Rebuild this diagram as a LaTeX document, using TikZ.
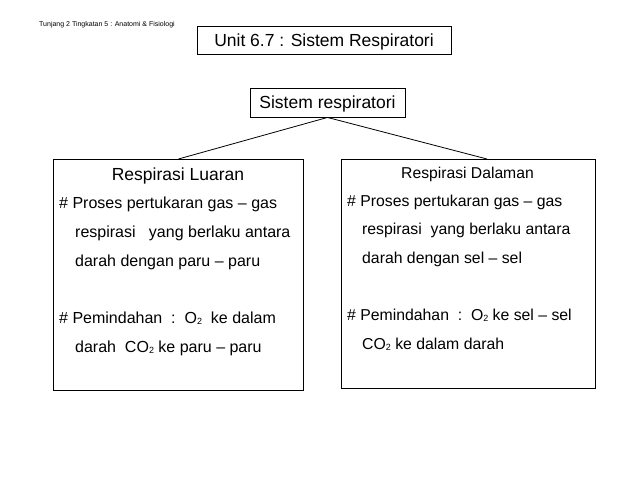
\documentclass[tikz,border=0pt]{standalone}
\usepackage{fontspec}
\setmainfont{Liberation Sans}
\newcommand\subtwo{\raisebox{-1pt}{\fontsize{9}{9}\selectfont 2}}
\begin{document}
\begin{tikzpicture}[x=1pt,y=-1pt,
  box/.style={draw,line width=0.9pt,inner sep=0pt},
  conn/.style={line width=0.8pt},
  ltxt/.style={anchor=base west,inner sep=0pt,font=\fontsize{16}{16}\selectfont},
  rtxt/.style={anchor=base west,inner sep=0pt,font=\fontsize{15.8}{16}\selectfont},
  ttl/.style={anchor=base,inner sep=0pt}]
\useasboundingbox (0,0) rectangle (638,479);
\fill[white] (0,0) rectangle (638,479);
\node[anchor=base west,inner sep=0pt,font=\fontsize{7}{7}\selectfont] (hdr) at (39,26.5) {Tunjang 2 Tingkatan 5 : Anatomi \& Fisiologi};
\node[box,minimum width=254pt,minimum height=28pt,text height=12.5pt,text depth=0pt,font=\fontsize{17.5}{17.5}\selectfont] (T) at (324,40) {Unit 6.7 : Sistem Respiratori};
\node[box,minimum width=155pt,minimum height=29pt,text height=12.5pt,text depth=0pt,font=\fontsize{17.5}{17.5}\selectfont] (S) at (327.5,102.5) {Sistem respiratori};
\node[box,minimum width=250pt,minimum height=231pt,anchor=north west] (L) at (53,159) {};
\node[box,minimum width=254pt,minimum height=229pt,anchor=north west] (R) at (341,159) {};
\coordinate (Rtop) at (487,159);
\draw[conn] (S.south) -- (L.north);
\draw[conn] (S.south) -- (Rtop);
% left box text
\node[ttl,font=\fontsize{17.5}{17.5}\selectfont] (Lt) at (178,180) {Respirasi Luaran};
\node[ltxt] (L1) at (59,208) {\# Proses pertukaran gas \textendash{} gas};
\node[ltxt] (L2) at (75,237) {respirasi~~~yang berlaku antara};
\node[ltxt] (L3) at (75,266) {darah dengan paru \textendash{} paru};
\node[ltxt] (L4) at (59,323) {\# Pemindahan~~:~~O\subtwo~~ke dalam};
\node[ltxt] (L5) at (75,352) {darah~~CO\subtwo{} ke paru \textendash{} paru};
% right box text
\node[ttl,font=\fontsize{15.7}{15.7}\selectfont] (Rt) at (467.5,178) {Respirasi Dalaman};
\node[rtxt] (R1) at (347,206) {\# Proses pertukaran gas \textendash{} gas};
\node[rtxt] (R2) at (362,234) {respirasi~~yang berlaku antara};
\node[rtxt] (R3) at (362,263) {darah dengan sel \textendash{} sel};
\node[rtxt] (R4) at (347,320) {\# Pemindahan~~:~~O\subtwo{} ke sel \textendash{} sel};
\node[rtxt] (R5) at (362,349) {CO\subtwo{} ke dalam darah};
\end{tikzpicture}
\end{document}
